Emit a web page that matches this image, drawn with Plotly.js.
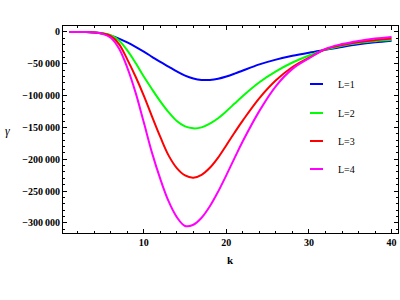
<!DOCTYPE html>
<html>
<head>
<meta charset="utf-8">
<script src="https://cdn.plot.ly/plotly-3.0.1.min.js"></script>
<style>html,body{margin:0;padding:0;background:#fff;}#chart{width:400px;height:300px;}</style>
</head>
<body>
<div id="chart"></div>
<script>
const k = [1,2,3,4,5,6,7,8,9,10,11,12,13,14,15,16,17,18,19,20,21,22,24,26,28,30,32,34,36,38,40];
const seriesNames = ["L=1","L=2","L=3","L=4"];
const L1 = [0,0,-100,-800,-2500,-5800,-10500,-16500,-23500,-31000,-39000,-47000,-54500,-62000,-68500,-73000,-75300,-75300,-73500,-70000,-65500,-60500,-51000,-43500,-37500,-32500,-28000,-23500,-19500,-16300,-13700];
const L2 = [0,0,-100,-600,-2000,-5000,-13500,-29000,-48500,-70000,-90000,-109000,-126000,-140000,-148500,-151500,-150000,-144000,-135500,-124500,-112500,-100500,-79000,-62000,-48000,-37000,-27800,-21500,-17300,-14500,-12300];
const L3 = [0,0,-100,-700,-2500,-6500,-19000,-43000,-70000,-100000,-133000,-165000,-194000,-214000,-225500,-229000,-224500,-213500,-197500,-178000,-158000,-139000,-104000,-76000,-55000,-40500,-27200,-20500,-15800,-12700,-10300];
const L4 = [0,0,-100,-800,-3000,-9000,-26000,-56000,-95000,-142000,-190000,-231000,-266000,-291000,-305000,-303000,-292000,-274000,-251000,-225000,-198000,-171500,-124000,-85000,-58000,-41500,-26500,-19000,-14000,-10400,-7800];
const colors = ["#0000ff","#00ff00","#ff0000","#ff00ff"];
const yTickVals = [0,-50000,-100000,-150000,-200000,-250000,-300000];
const yTickText = ["0","\u221250\u2009000","\u2212100\u2009000","\u2212150\u2009000","\u2212200\u2009000","\u2212250\u2009000","\u2212300\u2009000"];
const xTickVals = [10,20,30,40];
const xTickText = ["10","20","30","40"];

const ys = [L1,L2,L3,L4];
const traces = ys.map((y,i)=>({
  x:k, y:y, type:'scatter', mode:'lines', name:seriesNames[i],
  line:{color:colors[i], width:2, shape:'spline', smoothing:1}, showlegend:false
}));

const font = {family:'"Liberation Serif", "Times New Roman", serif', size:10, color:'#000', weight:'bold'};

// legend drawn as shapes+annotations in paper coords
const shapes = [], annotations = [];
const legX0 = (310-63)/335, legX1 = (323-63)/335, legTX = (336-63)/335;
const legY = [84,113,141,169];
seriesNames.forEach((n,i)=>{
  const yp = 1 - (legY[i]-26)/207;
  shapes.push({type:'line', xref:'paper', yref:'paper', x0:legX0, x1:legX1, y0:yp, y1:yp, line:{color:colors[i], width:2}});
  annotations.push({xref:'paper', yref:'paper', x:legTX, y:yp, text:n, showarrow:false, xanchor:'left', yanchor:'middle', font:{family:font.family, size:10, color:'#000'}});
});
annotations.push({xref:'paper', yref:'paper', x:(7-63)/335, y:1-(131-26)/207, text:'\u03b3', showarrow:false, xanchor:'center', yanchor:'middle', font:{family:font.family, size:12, color:'#000', style:'italic'}});
annotations.push({xref:'paper', yref:'paper', x:(230-63)/335, y:1-(260-26)/207, text:'k', showarrow:false, xanchor:'center', yanchor:'middle', font:{family:font.family, size:11, color:'#000', weight:'bold'}});

const layout = {
  width:400, height:300,
  margin:{l:63, r:2, t:26, b:67},
  paper_bgcolor:'#fff', plot_bgcolor:'#fff',
  showlegend:false,
  xaxis:{range:[0.22,40.78], showgrid:false, zeroline:false, showline:true, linecolor:'#000', linewidth:1, mirror:'ticks',
    ticks:'inside', ticklen:4, tickcolor:'#000', tickmode:'array', tickvals:xTickVals, ticktext:xTickText, tickfont:font,
    minor:{ticks:'inside', ticklen:2, tickcolor:'#000', dtick:2, tick0:0, showgrid:false}},
  yaxis:{range:[-316000,9400], showgrid:false, zeroline:false, showline:true, linecolor:'#000', linewidth:1, mirror:'ticks',
    ticks:'inside', ticklen:4, tickcolor:'#000', tickmode:'array', tickvals:yTickVals, ticktext:yTickText, tickfont:font,
    minor:{ticks:'inside', ticklen:2, tickcolor:'#000', dtick:10000, tick0:0, showgrid:false}},
  shapes:shapes, annotations:annotations
};
Plotly.newPlot('chart', traces, layout, {staticPlot:true});
</script>
</body>
</html>
